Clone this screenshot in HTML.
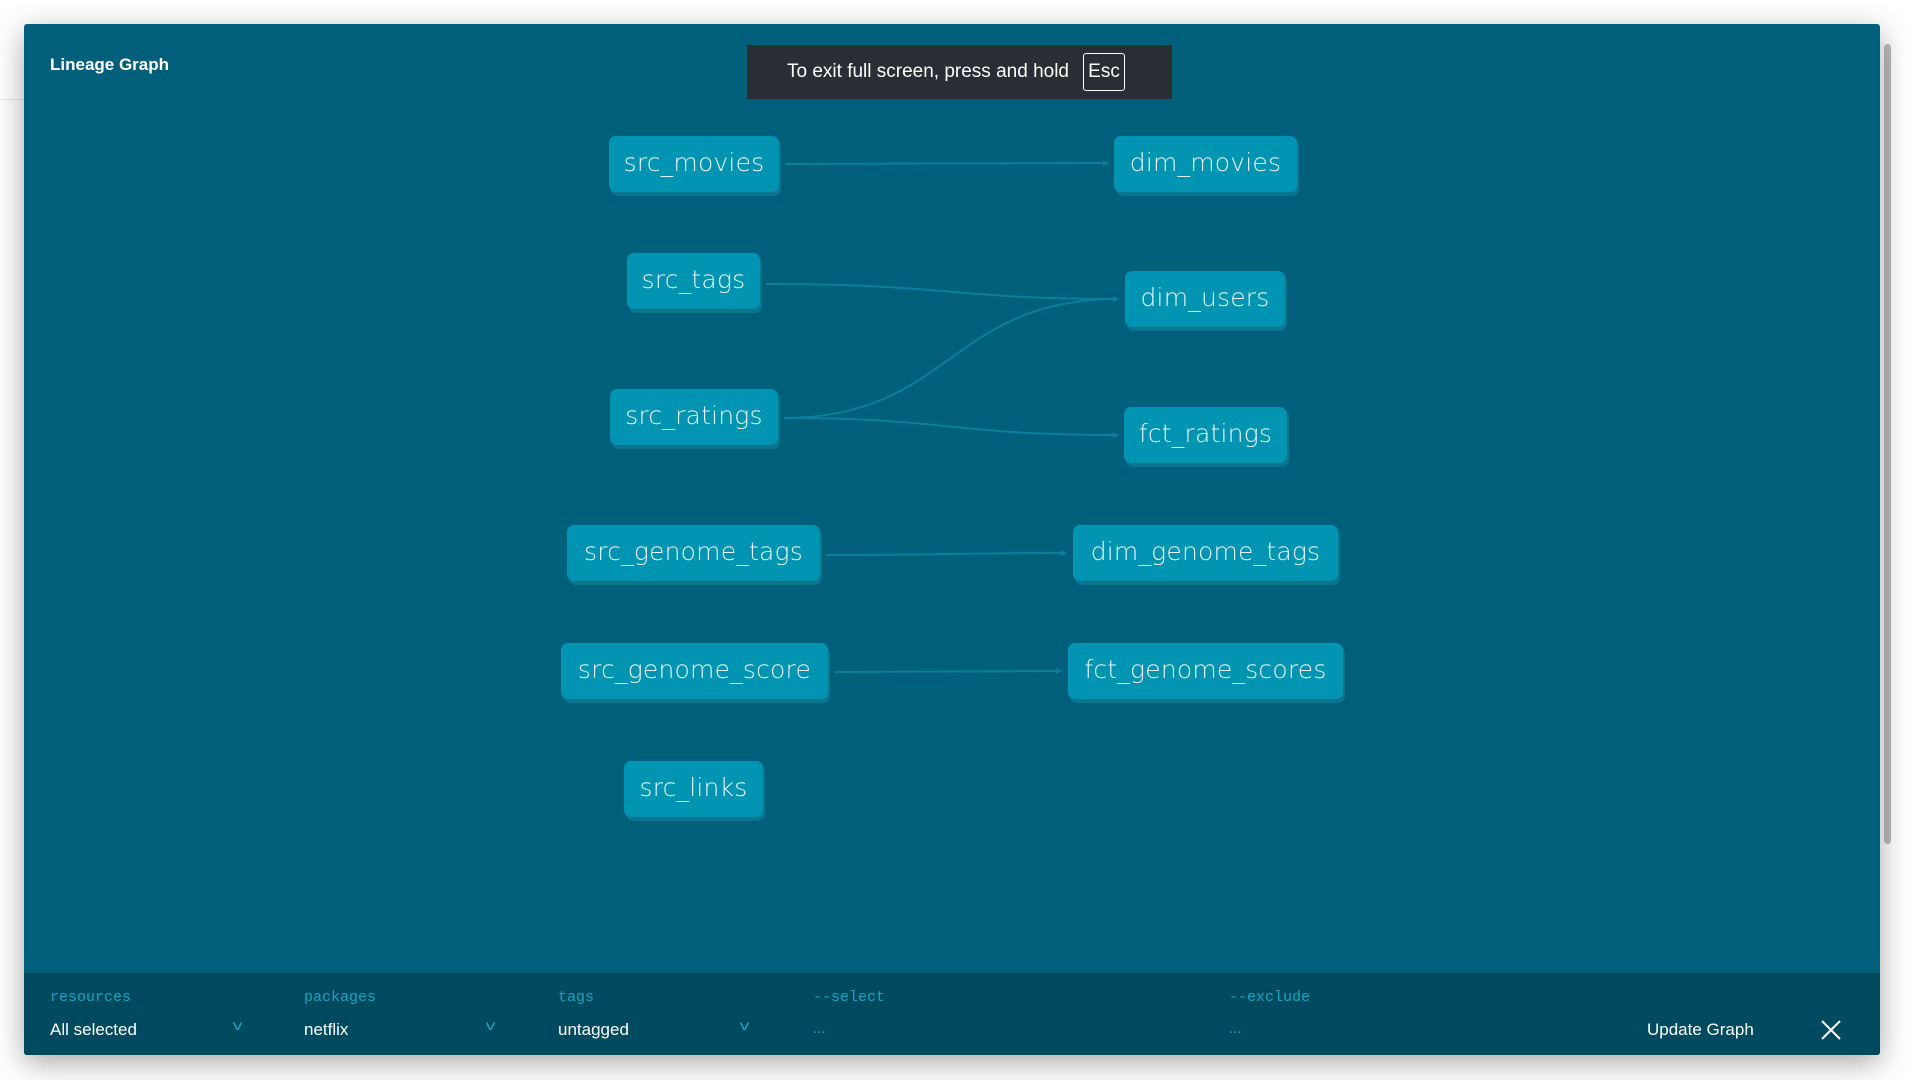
<!DOCTYPE html>
<html><head><meta charset="utf-8"><style>
body{margin:0;width:1920px;height:1080px;background:#fff;position:relative;overflow:hidden;font-family:"Liberation Sans",sans-serif}
.hdr{position:absolute;left:0;top:99px;width:1880px;height:1px;background:#e4e4e4}
.panel{position:absolute;left:24px;top:24px;width:1856px;height:1031px;background:#005f7a;box-shadow:0 8px 30px rgba(0,0,0,.35);border-radius:3px;overflow:hidden}
.title{position:absolute;left:26px;top:31px;color:#fff;font-weight:bold;font-size:17px}
.toast{position:absolute;left:723px;top:21px;width:425px;height:54px;background:#2a2d33;color:#fff;font-size:19px}
.toast span{position:absolute;left:40px;top:16px}
.esc{position:absolute;left:336px;top:8px;width:42px;height:38px;border:1px solid #fff;border-radius:3px;box-sizing:border-box;text-align:center;line-height:36px}
.node{position:absolute;height:56px;background:#0094b3;border-radius:7px;color:#e8f7fb;font-size:25px;line-height:54px;text-align:center;box-shadow:2px 4px 0 #0b7590;font-family:"DejaVu Sans","Liberation Sans",sans-serif;font-weight:200;letter-spacing:.2px}
.bar{position:absolute;left:0;top:949px;width:1856px;height:82px;background:#004a60}
.lab{position:absolute;top:16px;color:#17a4c2;font-family:"Liberation Mono",monospace;font-size:15px}
.val{position:absolute;top:47px;color:#fff;font-size:17px}
.chev{position:absolute;top:44px;color:#17a4c2;font-size:14px;transform:scaleX(1.4)}
.dots{position:absolute;top:47px;color:#17a4c2;font-size:15px}
.sb{position:absolute;left:1880px;top:24px;width:40px;height:1056px;background:#fff}
.thumb{position:absolute;left:1884px;top:44px;width:7px;height:800px;background:#bcbcbc;border-radius:4px}
</style></head><body>
<div class="hdr"></div>
<div class="sb"></div><div class="thumb"></div>
<div class="panel">
<div class="title">Lineage Graph</div>
<div class="toast"><span>To exit full screen, press and hold</span><div class="esc">Esc</div></div>
<svg width="1856" height="1031" style="position:absolute;left:0;top:0" fill="none" stroke="#0a7f9b" stroke-width="2">
<defs><marker id="a" markerWidth="6" markerHeight="6" refX="5" refY="3" orient="auto" markerUnits="userSpaceOnUse"><path d="M0,0L6,3L0,6z" fill="#0a7f9b" stroke="none"/></marker></defs>
<g transform="translate(-24,-24)">
<path d="M785,164 C950,164 950,163 1108,163" marker-end="url(#a)"/>
<path d="M766,284 C950,284 950,299 1118,299" marker-end="url(#a)"/>
<path d="M784,418 C950,418 950,299 1118,299" marker-end="url(#a)"/>
<path d="M784,418 C950,418 950,435 1118,435" marker-end="url(#a)"/>
<path d="M826,555 C950,555 950,553 1066,553" marker-end="url(#a)"/>
<path d="M834,672 C950,672 950,671 1061,671" marker-end="url(#a)"/>
</g></svg>
<div class="node" style="left:585px;top:112px;width:170px">src_movies</div>
<div class="node" style="left:1090px;top:112px;width:183px">dim_movies</div>
<div class="node" style="left:603px;top:229px;width:133px">src_tags</div>
<div class="node" style="left:1101px;top:247px;width:160px">dim_users</div>
<div class="node" style="left:586px;top:365px;width:168px">src_ratings</div>
<div class="node" style="left:1100px;top:383px;width:163px">fct_ratings</div>
<div class="node" style="left:543px;top:501px;width:253px">src_genome_tags</div>
<div class="node" style="left:1049px;top:501px;width:265px">dim_genome_tags</div>
<div class="node" style="left:537px;top:619px;width:267px">src_genome_score</div>
<div class="node" style="left:1044px;top:619px;width:275px">fct_genome_scores</div>
<div class="node" style="left:600px;top:737px;width:139px">src_links</div>
<div class="bar">
<div class="lab" style="left:26px">resources</div><div class="val" style="left:26px">All selected</div><div class="chev" style="left:210px">v</div>
<div class="lab" style="left:280px">packages</div><div class="val" style="left:280px">netflix</div><div class="chev" style="left:463px">v</div>
<div class="lab" style="left:534px">tags</div><div class="val" style="left:534px">untagged</div><div class="chev" style="left:717px">v</div>
<div class="lab" style="left:789px">--select</div><div class="dots" style="left:789px">...</div>
<div class="lab" style="left:1205px">--exclude</div><div class="dots" style="left:1205px">...</div>
<div class="val" style="left:1623px">Update Graph</div>
<svg style="position:absolute;left:1797px;top:47px" width="20" height="20" stroke="#fff" stroke-width="2"><path d="M1,1L19,19M19,1L1,19"/></svg>
</div>
</div>
</body></html>
